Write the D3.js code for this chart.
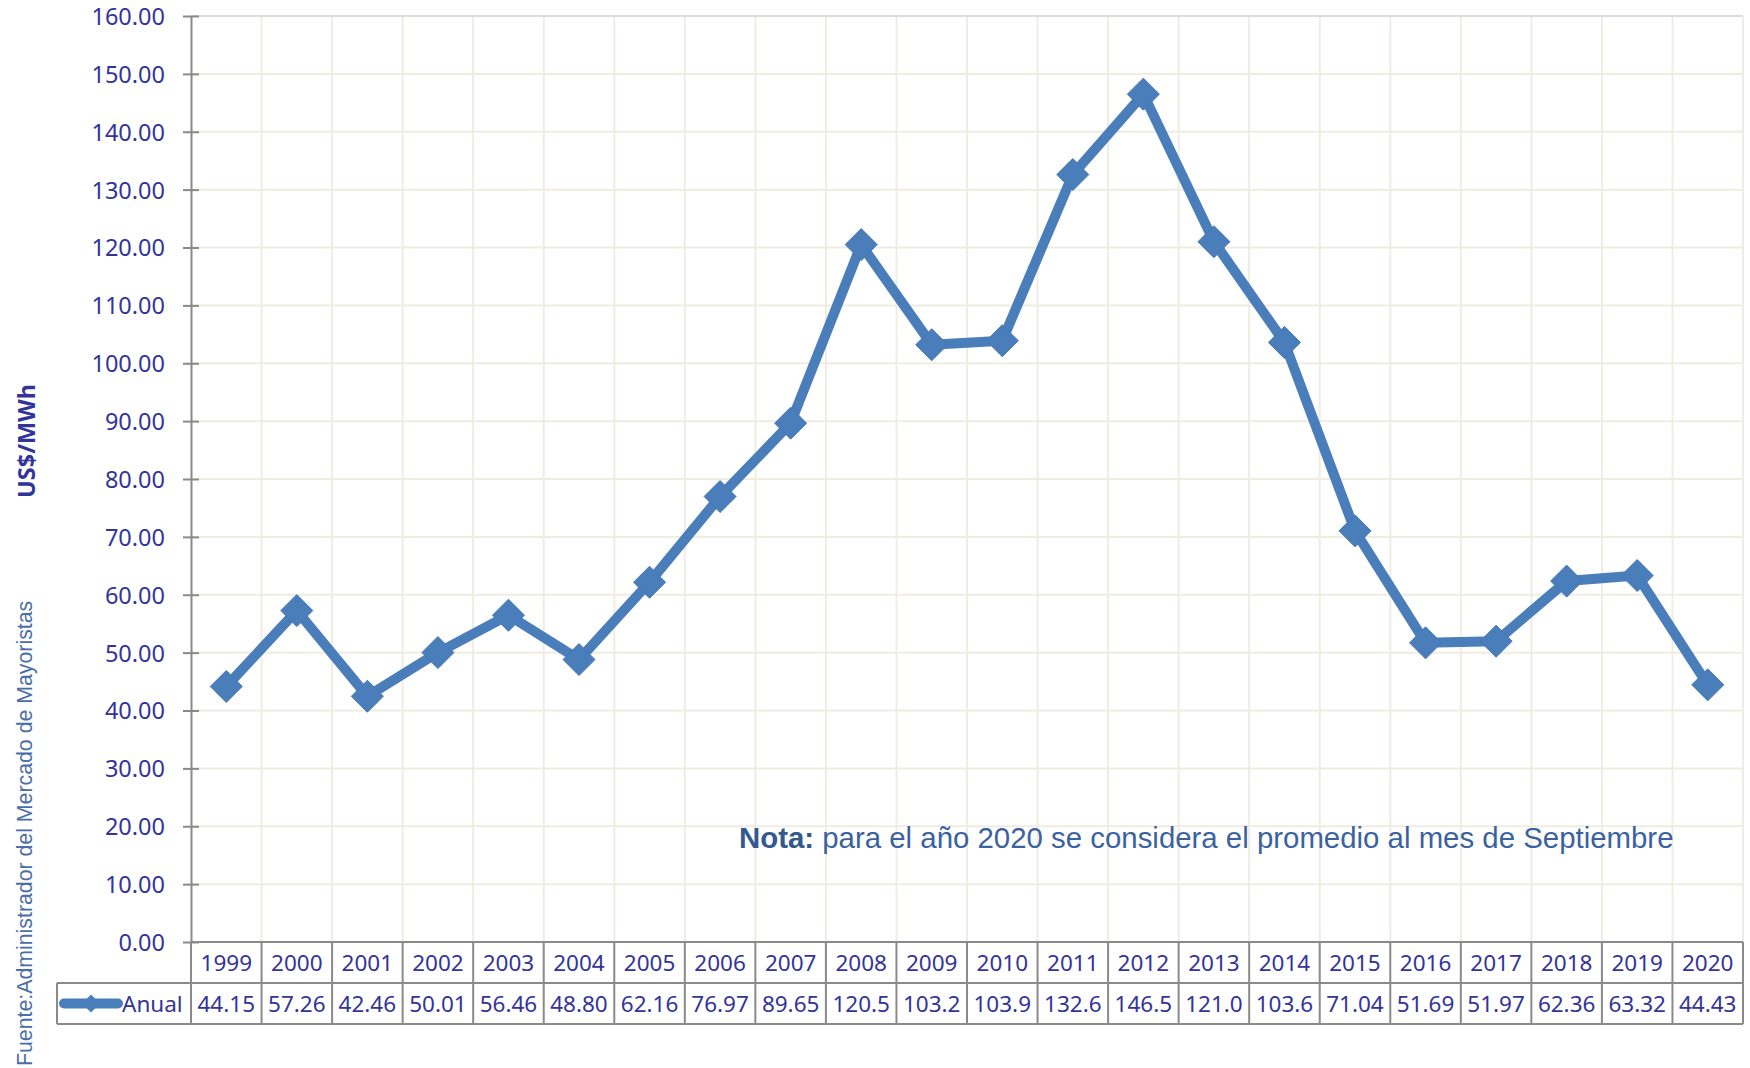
<!DOCTYPE html>
<html>
<head>
<meta charset="utf-8">
<script src="https://cdn.jsdelivr.net/npm/d3@7"></script>
<style>
  body { margin: 0; background: #fff; }
  svg { display: block; }
</style>
</head>
<body>
<svg id="chart"></svg>
<script>
const years = ["1999", "2000", "2001", "2002", "2003", "2004", "2005", "2006", "2007", "2008", "2009",
               "2010", "2011", "2012", "2013", "2014", "2015", "2016", "2017", "2018", "2019", "2020"];
const anual = [44.15, 57.26, 42.46, 50.01, 56.46, 48.80, 62.16, 76.97, 89.65, 120.5, 103.2,
               103.9, 132.6, 146.5, 121.0, 103.6, 71.04, 51.69, 51.97, 62.36, 63.32, 44.43];
const anualLabels = ["44.15", "57.26", "42.46", "50.01", "56.46", "48.80", "62.16", "76.97", "89.65", "120.5", "103.2",
                     "103.9", "132.6", "146.5", "121.0", "103.6", "71.04", "51.69", "51.97", "62.36", "63.32", "44.43"];
const yTicks = d3.range(0, 161, 10);
const seriesName = "Anual";
const yTitle = "US$/MWh";
const source = "Fuente:Administrador del Mercado de Mayoristas";

const width = 1750, height = 1068;
const margin = { top: 16, right: 7, bottom: 126, left: 191 };
const rowH = 41;
const legendLeft = 57;

const font = "'Noto Sans', 'DejaVu Sans', sans-serif";
const textColor = "#33349a";
const lineColor = "#4a7ebb";
const gridColor = "#efece1";
const axisColor = "#8a8a8a";

const svg = d3.select("#chart").attr("width", width).attr("height", height);

const x = d3.scaleBand()
    .domain(years)
    .range([margin.left, width - margin.right]);

const y = d3.scaleLinear()
    .domain([0, 160])
    .range([height - margin.bottom, margin.top]);

const y0 = y(0);

// grid
const grid = svg.append("g");
grid.selectAll("line.h")
    .data(yTicks.filter(d => d > 0 && d < 160))
    .join("line")
    .attr("x1", margin.left).attr("x2", width - margin.right)
    .attr("y1", d => y(d)).attr("y2", d => y(d))
    .attr("stroke", gridColor).attr("stroke-width", 2);
grid.selectAll("line.v")
    .data(years.slice(1))
    .join("line")
    .attr("x1", d => x(d)).attr("x2", d => x(d))
    .attr("y1", margin.top).attr("y2", y0)
    .attr("stroke", gridColor).attr("stroke-width", 2);
// plot border top / right
grid.append("line")
    .attr("x1", margin.left).attr("x2", width - margin.right)
    .attr("y1", y(160)).attr("y2", y(160))
    .attr("stroke", "#dcdcdc").attr("stroke-width", 2);
grid.append("line")
    .attr("x1", width - margin.right).attr("x2", width - margin.right)
    .attr("y1", margin.top).attr("y2", y0)
    .attr("stroke", gridColor).attr("stroke-width", 2);

// y axis
const yAxis = svg.append("g")
    .attr("transform", `translate(${margin.left},0)`)
    .call(d3.axisLeft(y)
        .tickValues(yTicks)
        .tickFormat(d3.format(".2f"))
        .tickSize(8)
        .tickPadding(18)
        .tickSizeOuter(0));
yAxis.select(".domain").attr("stroke", axisColor).attr("stroke-width", 2);
yAxis.selectAll(".tick line").attr("stroke", axisColor).attr("stroke-width", 2).attr("x2", 8).attr("x1", -8);
yAxis.selectAll(".tick text")
    .attr("font-family", font)
    .attr("font-size", 23.5)
    .attr("fill", textColor)
    .attr("dy", "0.36em");

// data table
const table = svg.append("g");
const rowYears = y0, rowVals = y0 + rowH;
table.selectAll("text.year")
    .data(years)
    .join("text")
    .attr("x", d => x(d) + x.bandwidth() / 2)
    .attr("y", rowYears + rowH / 2)
    .attr("dy", "0.36em")
    .attr("text-anchor", "middle")
    .attr("font-family", font)
    .attr("font-size", 22.5)
    .attr("fill", textColor)
    .text(d => d);
table.selectAll("text.val")
    .data(years)
    .join("text")
    .attr("x", d => x(d) + x.bandwidth() / 2)
    .attr("y", rowVals + rowH / 2)
    .attr("dy", "0.36em")
    .attr("text-anchor", "middle")
    .attr("font-family", font)
    .attr("font-size", 22.5)
    .attr("fill", textColor)
    .text((d, i) => anualLabels[i]);

const bColor = axisColor;
// horizontal borders
[[margin.left, rowYears], [legendLeft, rowVals], [legendLeft, rowVals + rowH]].forEach(([x1, yy]) => {
    table.append("line")
        .attr("x1", x1).attr("x2", width - margin.right)
        .attr("y1", yy).attr("y2", yy)
        .attr("stroke", bColor).attr("stroke-width", 2);
});
// vertical borders
table.selectAll("line.col")
    .data(years.concat(["end"]))
    .join("line")
    .attr("x1", d => d === "end" ? width - margin.right : x(d))
    .attr("x2", d => d === "end" ? width - margin.right : x(d))
    .attr("y1", rowYears).attr("y2", rowVals + rowH)
    .attr("stroke", bColor).attr("stroke-width", 2);
table.append("line")
    .attr("x1", legendLeft).attr("x2", legendLeft)
    .attr("y1", rowVals).attr("y2", rowVals + rowH)
    .attr("stroke", bColor).attr("stroke-width", 2);

// square rotated 45deg -> diamond
const diamond = r => `M0,${-r}L${r},0L0,${r}L${-r},0Z`;

// legend key
const ly = rowVals + rowH / 2;
table.append("line")
    .attr("x1", 64).attr("x2", 118)
    .attr("y1", ly).attr("y2", ly)
    .attr("stroke", lineColor).attr("stroke-width", 10).attr("stroke-linecap", "round");
table.append("path")
    .attr("d", diamond(9))
    .attr("transform", `translate(91,${ly})`)
    .attr("fill", lineColor);
table.append("text")
    .attr("x", 122).attr("y", ly).attr("dy", "0.36em")
    .attr("font-family", font).attr("font-size", 22.5)
    .attr("fill", textColor)
    .text(seriesName);

// series
const cx = d => x(d) + x.bandwidth() / 2;
const line = d3.line()
    .x((d, i) => cx(years[i]))
    .y(d => y(d));
svg.append("path")
    .datum(anual)
    .attr("fill", "none")
    .attr("stroke", lineColor)
    .attr("stroke-width", 10)
    .attr("stroke-linejoin", "round")
    .attr("d", line);
svg.append("g")
    .selectAll("path")
    .data(anual)
    .join("path")
    .attr("d", diamond(16))
    .attr("transform", (d, i) => `translate(${cx(years[i])},${y(d)})`)
    .attr("fill", lineColor)
    .attr("stroke", "#4577b3")
    .attr("stroke-width", 1);

// titles
svg.append("text")
    .attr("transform", `translate(35,441) rotate(-90)`)
    .attr("text-anchor", "middle")
    .attr("font-family", font)
    .attr("font-weight", "bold")
    .attr("font-size", 23.5)
    .attr("fill", textColor)
    .text(yTitle);

svg.append("text")
    .attr("transform", `translate(32,1066) rotate(-90)`)
    .attr("font-family", "'Liberation Sans', Arial, sans-serif")
    .attr("font-size", 21.3)
    .attr("fill", "#4a6ea7")
    .text(source);

const nota = svg.append("text")
    .attr("x", 739).attr("y", 848)
    .attr("font-family", "'Liberation Sans', Arial, sans-serif")
    .attr("font-size", 29.4)
    .attr("fill", "#3b62a0");
nota.append("tspan").attr("font-weight", "bold").attr("fill", "#33598f").text("Nota:");
nota.append("tspan").text(" para el año 2020 se considera el promedio al mes de Septiembre");
</script>
</body>
</html>
